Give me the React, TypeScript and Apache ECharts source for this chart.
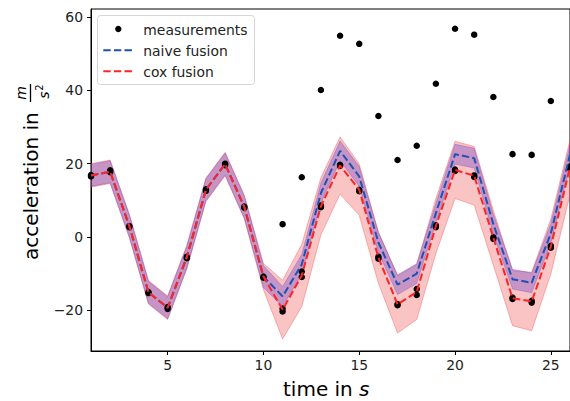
import React, { useEffect, useRef } from "react";
import * as echarts from "echarts";

const times = [1, 2, 3, 4, 5, 6, 7, 8, 9, 10, 11, 12, 13, 14, 15, 16, 17, 18, 19, 20, 21, 22, 23, 24, 25, 26];
const sensorA = [16.9, 17.7, 3.0, -15.0, -19.1, -5.4, 13.0, 20.0, 8.3, -10.8, -19.5, -9.4, 8.6, 19.4, 12.9, -5.4, -18.3, -14.2, 3.2, 18.4, 16.8, -0.1, -16.5, -17.4, -2.4, 19.2];
const sensorB = [16.5, 18.2, 2.7, -15.3, -19.6, -5.8, 12.6, 19.6, 8.0, -11.1, -20.3, -10.9, 8.1, 19.7, 12.5, -5.9, -18.6, -15.8, 2.7, 18.0, 16.4, -0.5, -16.9, -17.9, -2.9, 18.7];
const sensorC = [null, null, null, null, null, null, null, null, null, null, 3.5, 16.3, 40.1, 54.9, 52.7, 33.0, 21.0, 24.9, 41.8, 56.8, 55.2, 38.2, 22.6, 22.4, 37.1, null];
const naiveMean = [16.8, 17.8, 3.0, -15.1, -19.3, -5.5, 12.9, 19.9, 8.2, -10.8, -16.2, -7.5, 12.0, 23.5, 16.5, -1.5, -13.0, -10.0, 6.5, 22.6, 21.5, 3.5, -11.5, -12.5, 1.0, 22.5];
const naiveSigma = [3.0, 3.0, 3.0, 3.0, 3.0, 3.0, 3.0, 3.0, 3.0, 3.0, 2.7, 2.7, 2.7, 2.7, 2.7, 2.7, 2.7, 2.7, 2.7, 2.7, 2.7, 2.7, 2.7, 2.7, 2.7, 2.7];
const coxMean = [16.8, 17.8, 3.0, -15.1, -19.3, -5.5, 12.9, 19.9, 8.2, -10.8, -19.8, -10.5, 8.4, 19.5, 12.9, -5.6, -18.4, -15.0, 3.0, 18.3, 16.7, -0.2, -16.7, -17.6, -2.6, 19.0];
const coxSigma = [3.2, 3.2, 3.2, 3.2, 3.2, 3.2, 3.2, 3.2, 3.2, 3.6, 8.0, 8.5, 7.8, 7.8, 7.0, 7.0, 7.8, 7.5, 7.5, 7.8, 8.0, 7.5, 7.5, 8.0, 7.5, 7.5];
const xTicks = [5, 10, 15, 20, 25];
const yTicks = [-20, 0, 20, 40, 60];

const BLUE = "#2150b0";
const RED = "#ff2424";
const FONT = '"DejaVu Sans", sans-serif';

function band(mean: number[], sigma: number[], fill: string, stroke: string) {
  return {
    type: "custom",
    silent: true,
    clip: true,
    data: [[times[0], mean[0]]],
    renderItem: (_p: any, api: any) => {
      const upper = times.map((t, i) => api.coord([t, mean[i] + sigma[i]]));
      const lower = times.map((t, i) => api.coord([t, mean[i] - sigma[i]])).reverse();
      return {
        type: "polygon",
        shape: { points: upper.concat(lower) },
        style: { fill, stroke, lineWidth: 1 },
      };
    },
  };
}

export default function App() {
  const ref = useRef<HTMLDivElement>(null);
  useEffect(() => {
    document.body.style.margin = "0";
    const chart = echarts.init(ref.current!, null, { renderer: "svg" });
    const scatterData: number[][] = [];
    [sensorA, sensorB, sensorC].forEach((arr) =>
      arr.forEach((v, i) => {
        if (v !== null && v !== undefined) scatterData.push([times[i], v as number]);
      })
    );
    const fmt = (v: number) => (v < 0 ? "\u2212" + Math.abs(v) : String(v));
    chart.setOption({
      animation: false,
      grid: {
        left: 91,
        top: 9,
        width: 483.6,
        height: 342,
        show: true,
        borderColor: "#000",
        borderWidth: 1,
        backgroundColor: "transparent",
      },
      xAxis: {
        type: "value",
        min: 1,
        max: 26,
        splitLine: { show: false },
        axisLine: { show: true, onZero: false, lineStyle: { color: "#000", width: 1 } },
        axisTick: { show: true, length: 4, customValues: xTicks, lineStyle: { color: "#000", width: 1 } },
        axisLabel: { customValues: xTicks, color: "#222", fontFamily: FONT, fontSize: 13.9, margin: 7, formatter: fmt },
      },
      yAxis: {
        type: "value",
        min: -31.1,
        max: 62.2,
        splitLine: { show: false },
        axisLine: { show: true, lineStyle: { color: "#000", width: 1 } },
        axisTick: { show: true, length: 4, customValues: yTicks, lineStyle: { color: "#000", width: 1 } },
        axisLabel: { customValues: yTicks, color: "#222", fontFamily: FONT, fontSize: 13.9, margin: 8, formatter: fmt },
      },
      series: [
        band(coxMean, coxSigma, "rgba(240,60,60,0.3)", "rgba(240,60,60,0.35)"),
        band(naiveMean, naiveSigma, "rgba(100,60,200,0.35)", "rgba(100,60,200,0.3)"),
        {
          type: "scatter",
          name: "measurements",
          data: scatterData,
          symbol: "circle",
          symbolSize: 6.5,
          itemStyle: { color: "#000", opacity: 1 },
          silent: true,
        },
        {
          type: "line",
          name: "naive fusion",
          data: times.map((t, i) => [t, naiveMean[i]]),
          showSymbol: false,
          symbol: "none",
          lineStyle: { color: BLUE, width: 2, type: [7.4, 3.2] },
          silent: true,
        },
        {
          type: "line",
          name: "cox fusion",
          data: times.map((t, i) => [t, coxMean[i]]),
          showSymbol: false,
          symbol: "none",
          lineStyle: { color: RED, width: 2, type: [7.4, 3.2] },
          silent: true,
        },
      ],
      graphic: [
        {
          type: "group",
          x: 31,
          y: 260,
          rotation: Math.PI / 2,
          children: [
            {
              type: "text",
              x: 0,
              y: 0,
              style: { text: "acceleration in", font: "20px " + FONT, fill: "#000", textAlign: "left", textVerticalAlign: "middle", align: "left", verticalAlign: "middle" },
            },
            { type: "line", shape: { x1: 158, y1: -0.5, x2: 176, y2: -0.5 }, style: { stroke: "#000", lineWidth: 1.3 } },
            {
              type: "text",
              x: 167,
              y: -10,
              style: { text: "m", font: "italic 14px " + FONT, fill: "#000", textAlign: "center", textVerticalAlign: "middle", align: "center", verticalAlign: "middle" },
            },
            {
              type: "text",
              x: 165,
              y: 13,
              style: { text: "s", font: "italic 14px " + FONT, fill: "#000", textAlign: "center", textVerticalAlign: "middle", align: "center", verticalAlign: "middle" },
            },
            {
              type: "text",
              x: 172.5,
              y: 8,
              style: { text: "2", font: "10px " + FONT, fill: "#000", textAlign: "center", textVerticalAlign: "middle", align: "center", verticalAlign: "middle" },
            },
          ],
        },
        {
          type: "text",
          x: 283,
          y: 389,
          style: { text: "time in ", font: "20px " + FONT, fill: "#000", textAlign: "left", textVerticalAlign: "middle", align: "left", verticalAlign: "middle" },
        },
        {
          type: "text",
          x: 359,
          y: 389,
          style: { text: "s", font: "italic 20px " + FONT, fill: "#000", textAlign: "left", textVerticalAlign: "middle", align: "left", verticalAlign: "middle" },
        },
        {
          type: "rect",
          z: 100,
          shape: { x: 97.5, y: 15.5, width: 157, height: 69, r: 3 },
          style: { fill: "rgba(255,255,255,0.8)", stroke: "#d5d5d5", lineWidth: 1 },
        },
        { type: "circle", z: 101, shape: { cx: 118.3, cy: 29, r: 3.2 }, style: { fill: "#000" } },
        { type: "line", z: 101, shape: { x1: 103.3, y1: 50.3, x2: 132.7, y2: 50.3 }, style: { stroke: BLUE, lineWidth: 2, lineDash: [7.4, 3.2] } },
        { type: "line", z: 101, shape: { x1: 103.3, y1: 71.3, x2: 132.7, y2: 71.3 }, style: { stroke: RED, lineWidth: 2, lineDash: [7.4, 3.2] } },
        {
          type: "text",
          z: 101,
          x: 143.3,
          y: 29.5,
          style: { text: "measurements", font: "13.9px " + FONT, fill: "#222", textAlign: "left", textVerticalAlign: "middle", align: "left", verticalAlign: "middle" },
        },
        {
          type: "text",
          z: 101,
          x: 143.3,
          y: 50.5,
          style: { text: "naive fusion", font: "13.9px " + FONT, fill: "#222", textAlign: "left", textVerticalAlign: "middle", align: "left", verticalAlign: "middle" },
        },
        {
          type: "text",
          z: 101,
          x: 143.3,
          y: 71.5,
          style: { text: "cox fusion", font: "13.9px " + FONT, fill: "#222", textAlign: "left", textVerticalAlign: "middle", align: "left", verticalAlign: "middle" },
        },
      ],
    });
    return () => chart.dispose();
  }, []);
  return <div ref={ref} style={{ position: "absolute", left: 0, top: 0, width: 570, height: 401 }} />;
}
